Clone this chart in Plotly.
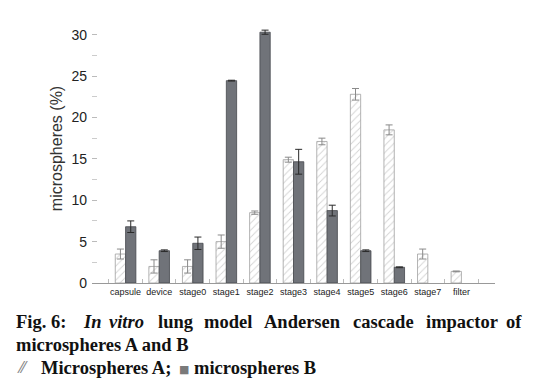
import plotly.graph_objects as go

categories = ["capsule", "device", "stage0", "stage1", "stage2", "stage3",
              "stage4", "stage5", "stage6", "stage7", "filter"]
values_a = [3.5, 2.0, 2.0, 5.0, 8.5, 14.9, 17.1, 22.8, 18.5, 3.5, 1.4]
errors_a = [0.6, 0.8, 0.8, 0.8, 0.2, 0.3, 0.4, 0.7, 0.6, 0.6, 0.05]
values_b = [6.8, 3.9, 4.8, 24.45, 30.3, 14.65, 8.75, 3.9, 1.9, None, None]
errors_b = [0.7, 0.1, 0.75, 0.05, 0.25, 1.5, 0.65, 0.1, 0.05, 0, 0]
y_ticks = [0, 5, 10, 15, 20, 25, 30]

W, H = 539, 387
L, R, T, B = 92, 44, 14, 104
PW, PH = W - L - R, H - T - B


def px(x):
    return (x - L) / PW


def py(y):
    return (H - B - y) / PH


fig = go.Figure()
fig.add_trace(go.Bar(
    x=categories, y=values_a, name="Microspheres A",
    marker=dict(color="white",
                pattern=dict(shape="/", fgcolor="#a8a8a8", bgcolor="white",
                             size=5, solidity=0.18),
                line=dict(color="#a0a0a0", width=0.8)),
    error_y=dict(type="data", array=errors_a, color="#8a8a8a",
                 thickness=1, width=3.5),
))
fig.add_trace(go.Bar(
    x=categories, y=values_b, name="microspheres B",
    marker=dict(color="#707379", line=dict(color="#45484c", width=0.8)),
    error_y=dict(type="data", array=errors_b, color="#2a2a2a",
                 thickness=1, width=3.5),
))

fig.update_layout(
    width=W, height=H,
    margin=dict(l=L, r=R, t=T, b=B),
    paper_bgcolor="white", plot_bgcolor="white",
    barmode="group", bargap=0.386, bargroupgap=0,
    showlegend=False,
    font=dict(family="Liberation Sans, Arial", color="#222"),
)
fig.update_xaxes(
    type="category", range=[-1, 11],
    showline=True, linecolor="#999", linewidth=1,
    showgrid=False, zeroline=False,
    ticks="inside", tickson="boundaries", ticklen=4, tickcolor="#bbb",
    tickangle=0,
    tickfont=dict(size=9, color="#222"),
)
fig.update_yaxes(
    range=[0, 32.5], tickvals=y_ticks,
    showline=False, showgrid=False, zeroline=False,
    ticks="inside", ticklen=5, tickcolor="#bbb",
    minor=dict(ticks="inside", ticklen=5, tickcolor="#ccc", dtick=2.5, tick0=0),
    tickfont=dict(size=14, color="#222"),
    ticklabelstandoff=4,
    title=dict(text="microspheres (%)", font=dict(size=16, color="#333"),
               standoff=4),
)

cap_font = dict(family="Liberation Serif, Times New Roman", size=18.5, color="#111")
words = [("<b>Fig.</b>", 15), ("<b>6:</b>", 50), ("<b><i>In</i></b>", 82),
         ("<b><i>vitro</i></b>", 108), ("<b>lung</b>", 157), ("<b>model</b>", 203),
         ("<b>Andersen</b>", 263), ("<b>cascade</b>", 352),
         ("<b>impactor</b>", 425), ("<b>of</b>", 505)]
for text, x0 in words:
    fig.add_annotation(text=text, x=px(x0 - 1), y=py(322), xref="paper", yref="paper",
                       xanchor="left", yanchor="middle", showarrow=False,
                       font=cap_font)
fig.add_annotation(text="<b>microspheres A and B</b>", x=px(14), y=py(345),
                   xref="paper", yref="paper", xanchor="left", yanchor="middle",
                   showarrow=False, font=cap_font)
fig.add_annotation(text="<span style='color:#888'>⁄⁄</span>", x=px(15), y=py(368),
                   xref="paper", yref="paper", xanchor="left", yanchor="middle",
                   showarrow=False, font=dict(family="DejaVu Sans", size=15))
fig.add_annotation(text="<b>Microspheres A;</b>", x=px(39), y=py(368),
                   xref="paper", yref="paper", xanchor="left", yanchor="middle",
                   showarrow=False, font=cap_font)
fig.add_annotation(text="■", x=px(177), y=py(369),
                   xref="paper", yref="paper", xanchor="left", yanchor="middle",
                   showarrow=False, font=dict(family="DejaVu Sans", size=11, color="#7a7a7a"))
fig.add_annotation(text="<b>microspheres B</b>", x=px(192), y=py(368),
                   xref="paper", yref="paper", xanchor="left", yanchor="middle",
                   showarrow=False, font=cap_font)

fig.write_html("out.html")
